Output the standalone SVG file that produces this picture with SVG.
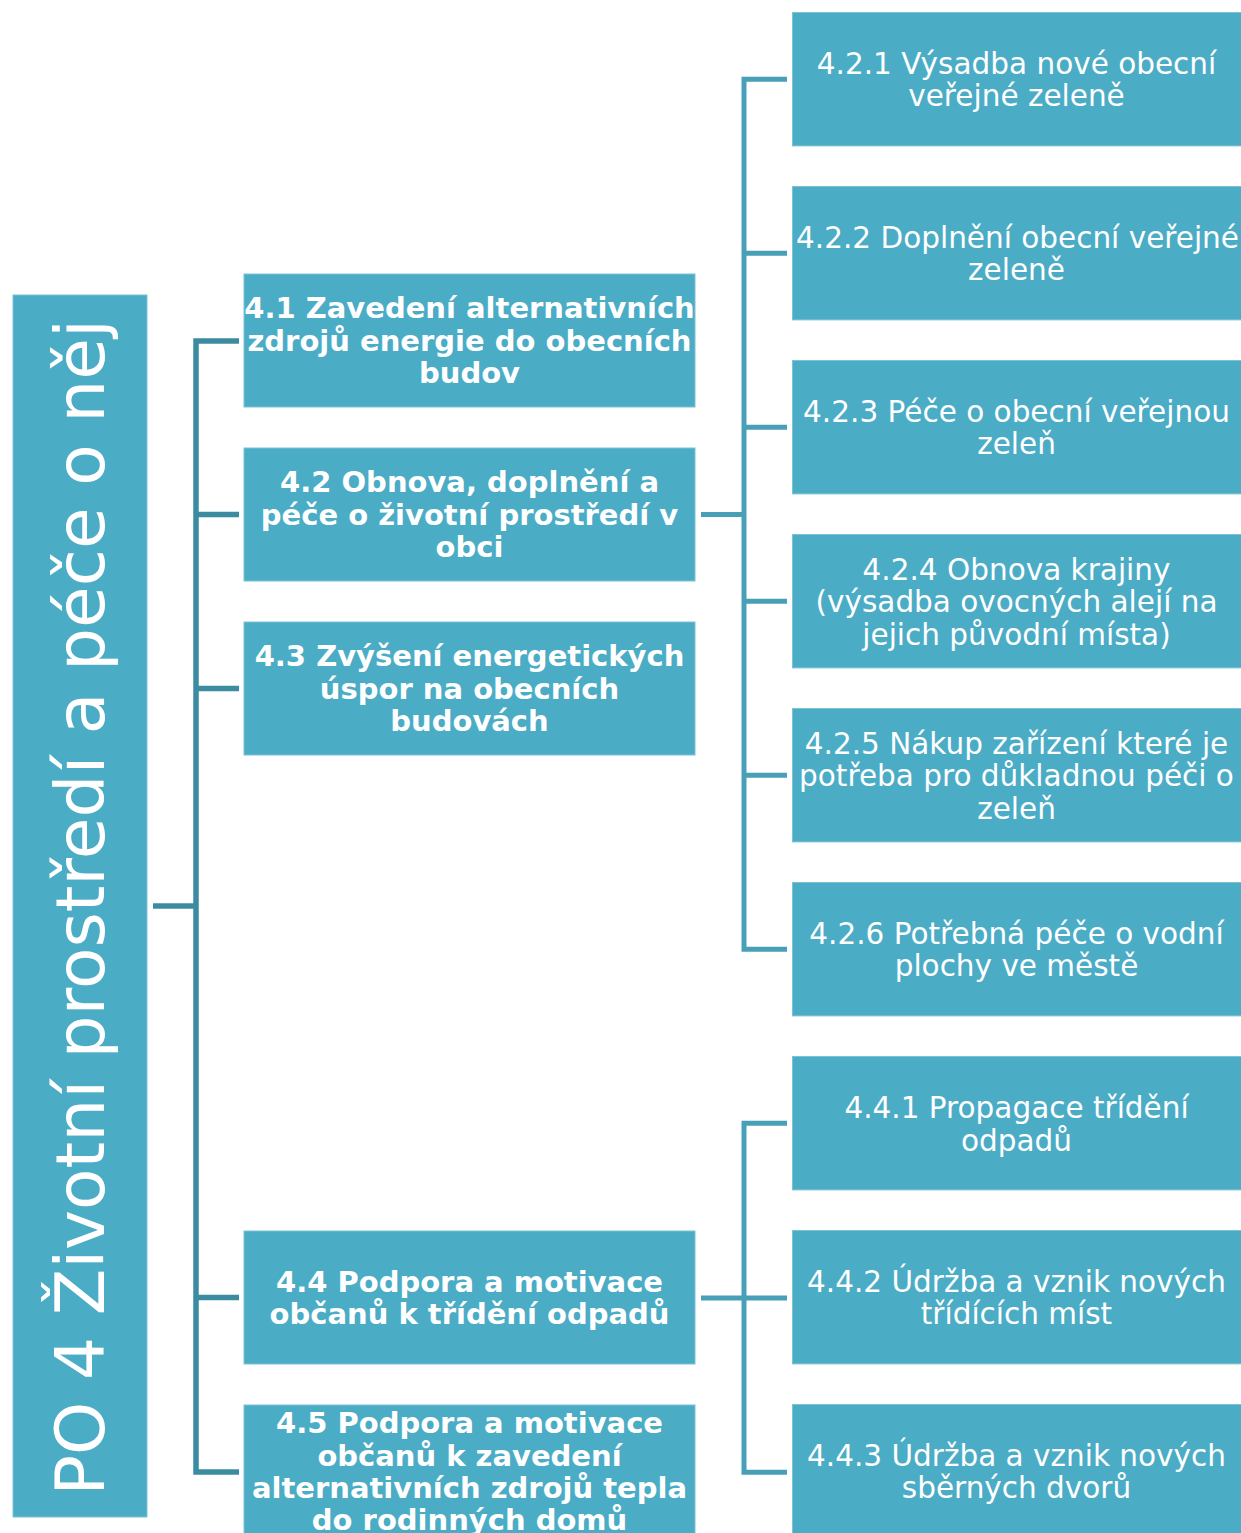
<svg xmlns="http://www.w3.org/2000/svg" width="1241" height="1533" viewBox="0 0 1241 1533">
<style>
.box{fill:#4BACC6;stroke:#7cc2d5;stroke-width:1}
.root{font-family:"DejaVu Sans","Verdana",sans-serif;font-size:67.8px;fill:#fff;text-anchor:middle}
.l2{font-family:"DejaVu Sans","Verdana",sans-serif;font-size:29px;font-weight:bold;fill:#fff;text-anchor:middle}
.l3{font-family:"DejaVu Sans","Verdana",sans-serif;font-size:29.5px;fill:#fff;text-anchor:middle}
.cl{fill:none;stroke:#3C8CA1;stroke-width:5.5;stroke-linejoin:miter;stroke-linecap:butt}
.cr{fill:none;stroke:#47A0B7;stroke-width:5;stroke-linejoin:miter;stroke-linecap:butt}
</style>
<g id="connectors">
<path class="cl" d="M153,906 H196"/>
<path class="cl" d="M239,341 H196 V1472 H239"/>
<path class="cl" d="M196,514.5 H239 M196,688.5 H239 M196,1297.5 H239"/>
<path class="cr" d="M701,514.5 H744"/>
<path class="cr" d="M787,79.2 H744 V949.2 H787"/>
<path class="cr" d="M744,253.2 H787 M744,427.2 H787 M744,601.2 H787 M744,775.2 H787"/>
<path class="cr" d="M701,1298 H787"/>
<path class="cr" d="M787,1123.2 H744 V1472.2 H787"/>
</g>
<g id="n-root">
<rect class="box" x="13" y="295" width="134" height="1222"/>
<text class="root" transform="translate(104,907.5) rotate(-90)">PO 4 Životní prostředí a péče o něj</text>
</g>
<g id="n-4-1">
<rect class="box" x="244" y="274" width="451" height="133"/>
<text class="l2" x="469.5" y="318">4.1 Zavedení alternativních</text>
<text class="l2" x="469.5" y="350.5">zdrojů energie do obecních</text>
<text class="l2" x="469.5" y="383">budov</text>
</g>
<g id="n-4-2">
<rect class="box" x="244" y="448" width="451" height="133"/>
<text class="l2" x="469.5" y="492">4.2 Obnova, doplnění a</text>
<text class="l2" x="469.5" y="524.5">péče o životní prostředí v</text>
<text class="l2" x="469.5" y="557">obci</text>
</g>
<g id="n-4-3">
<rect class="box" x="244" y="622" width="451" height="133"/>
<text class="l2" x="469.5" y="666">4.3 Zvýšení energetických</text>
<text class="l2" x="469.5" y="698.5">úspor na obecních</text>
<text class="l2" x="469.5" y="731">budovách</text>
</g>
<g id="n-4-4">
<rect class="box" x="244" y="1231" width="451" height="133"/>
<text class="l2" x="469.5" y="1291.5">4.4 Podpora a motivace</text>
<text class="l2" x="469.5" y="1324">občanů k třídění odpadů</text>
</g>
<g id="n-4-5">
<rect class="box" x="244" y="1405" width="451" height="140"/>
<text class="l2" x="469.5" y="1433">4.5 Podpora a motivace</text>
<text class="l2" x="469.5" y="1465.5">občanů k zavedení</text>
<text class="l2" x="469.5" y="1498">alternativních zdrojů tepla</text>
<text class="l2" x="469.5" y="1530">do rodinných domů</text>
</g>
<g id="n-4-2-1">
<rect class="box" x="792.5" y="12.5" width="460" height="133.4"/>
<text class="l3" x="1016.5" y="73.5">4.2.1 Výsadba nové obecní</text>
<text class="l3" x="1016.5" y="106">veřejné zeleně</text>
</g>
<g id="n-4-2-2">
<rect class="box" x="792.5" y="186.5" width="460" height="133.4"/>
<text class="l3" x="1017.5" y="247.5">4.2.2 Doplnění obecní veřejné</text>
<text class="l3" x="1016.5" y="280">zeleně</text>
</g>
<g id="n-4-2-3">
<rect class="box" x="792.5" y="360.5" width="460" height="133.4"/>
<text class="l3" x="1016.5" y="421.5">4.2.3 Péče o obecní veřejnou</text>
<text class="l3" x="1016.5" y="454">zeleň</text>
</g>
<g id="n-4-2-4">
<rect class="box" x="792.5" y="534.5" width="460" height="133.4"/>
<text class="l3" x="1016.5" y="579.5">4.2.4 Obnova krajiny</text>
<text class="l3" x="1016.5" y="612">(výsadba ovocných alejí na</text>
<text class="l3" x="1016.5" y="644.5">jejich původní místa)</text>
</g>
<g id="n-4-2-5">
<rect class="box" x="792.5" y="708.5" width="460" height="133.4"/>
<text class="l3" x="1016.5" y="753.5">4.2.5 Nákup zařízení které je</text>
<text class="l3" x="1016.5" y="786">potřeba pro důkladnou péči o</text>
<text class="l3" x="1016.5" y="818.5">zeleň</text>
</g>
<g id="n-4-2-6">
<rect class="box" x="792.5" y="882.5" width="460" height="133.4"/>
<text class="l3" x="1016.5" y="943.5">4.2.6 Potřebná péče o vodní</text>
<text class="l3" x="1016.5" y="976">plochy ve městě</text>
</g>
<g id="n-4-4-1">
<rect class="box" x="792.5" y="1056.5" width="460" height="133.4"/>
<text class="l3" x="1016.5" y="1118">4.4.1 Propagace třídění</text>
<text class="l3" x="1016.5" y="1150.5">odpadů</text>
</g>
<g id="n-4-4-2">
<rect class="box" x="792.5" y="1230.5" width="460" height="133.4"/>
<text class="l3" x="1016.5" y="1292">4.4.2 Údržba a vznik nových</text>
<text class="l3" x="1016.5" y="1324">třídících míst</text>
</g>
<g id="n-4-4-3">
<rect class="box" x="792.5" y="1404.5" width="460" height="140"/>
<text class="l3" x="1016.5" y="1466">4.4.3 Údržba a vznik nových</text>
<text class="l3" x="1016.5" y="1498">sběrných dvorů</text>
</g>
</svg>
